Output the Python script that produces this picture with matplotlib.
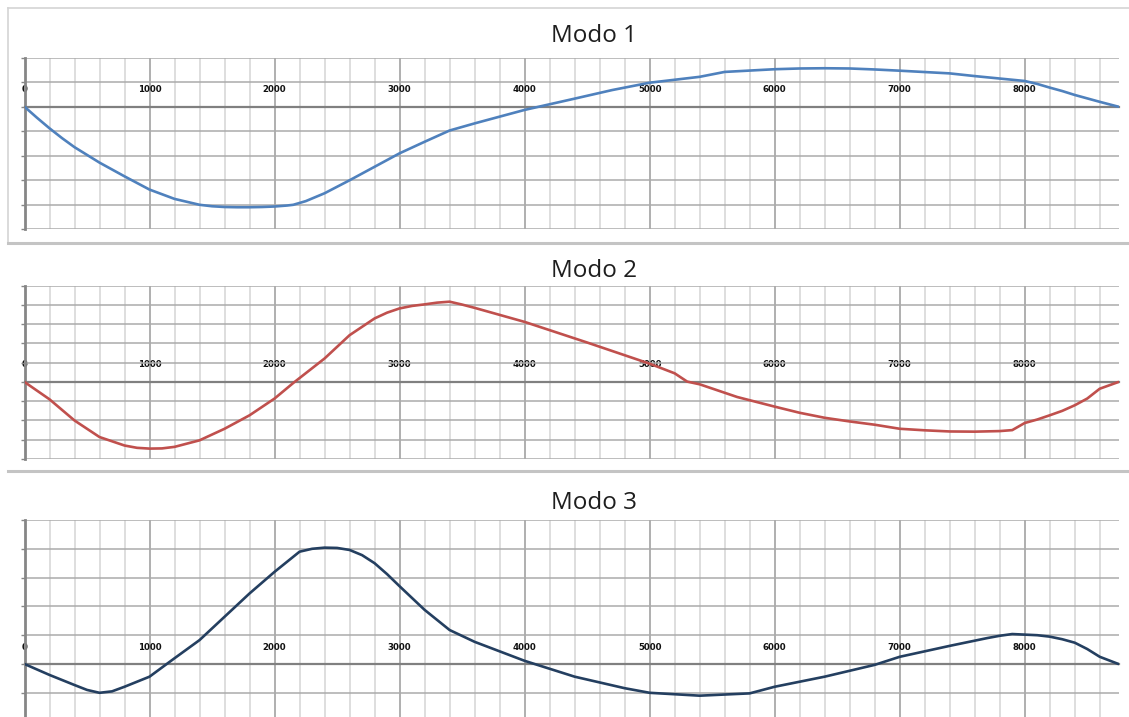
import matplotlib
matplotlib.use("Agg")
import matplotlib.pyplot as plt
from matplotlib.ticker import MultipleLocator
from matplotlib.lines import Line2D

# ---------------- data ----------------
titles = ["Modo 1", "Modo 2", "Modo 3"]
colors = ["#4f81bd", "#c0504d", "#243f60"]

x_mode1 = [0, 100, 200, 300, 400, 600, 800, 1000, 1200, 1400, 1500, 1600, 1700, 1800,
           1900, 2000, 2100, 2150, 2250, 2400, 2600, 2800, 3000, 3200, 3400, 3600, 4000,
           4400, 4700, 5000, 5400, 5600, 6000, 6200, 6400, 6600, 6800, 7000, 7400, 7600,
           8000, 8100, 8200, 8300, 8400, 8600, 8750]
y_mode1 = [0, -0.45, -0.88, -1.28, -1.65, -2.28, -2.84, -3.38, -3.76, -4.0, -4.06, -4.09,
           -4.1, -4.1, -4.09, -4.07, -4.03, -4.0, -3.85, -3.53, -3.0, -2.45, -1.9, -1.43,
           -0.97, -0.68, -0.13, 0.33, 0.68, 0.98, 1.22, 1.42, 1.53, 1.56, 1.57, 1.56,
           1.52, 1.47, 1.36, 1.25, 1.05, 0.93, 0.78, 0.64, 0.48, 0.2, 0]

x_mode2 = [0, 200, 400, 600, 800, 900, 1000, 1100, 1200, 1400, 1600, 1800, 2000, 2150,
           2400, 2600, 2800, 2900, 3000, 3100, 3200, 3300, 3400, 3500, 3600, 4000, 4500,
           5000, 5200, 5300, 5400, 5700, 6000, 6200, 6400, 6600, 6800, 7000, 7200, 7400,
           7600, 7800, 7900, 8000, 8100, 8200, 8300, 8400, 8500, 8600, 8750]
y_mode2 = [0, -0.9, -2.0, -2.86, -3.3, -3.42, -3.46, -3.45, -3.37, -3.03, -2.43, -1.73,
           -0.86, -0.05, 1.22, 2.43, 3.3, 3.6, 3.82, 3.95, 4.03, 4.12, 4.17, 4.02, 3.85,
           3.12, 2.05, 0.95, 0.45, 0.02, -0.12, -0.78, -1.28, -1.6, -1.86, -2.05, -2.22,
           -2.43, -2.51, -2.57, -2.58, -2.55, -2.5, -2.13, -1.95, -1.73, -1.5, -1.21,
           -0.86, -0.35, 0]

x_mode3 = [0, 200, 400, 500, 600, 700, 800, 1000, 1200, 1400, 1600, 1800, 2000, 2200,
           2300, 2400, 2500, 2600, 2700, 2800, 2900, 3000, 3200, 3400, 3600, 4000, 4400,
           4800, 5000, 5400, 5800, 6000, 6400, 6800, 7000, 7400, 7700, 7800, 7900, 8000,
           8100, 8200, 8300, 8400, 8500, 8600, 8750]
y_mode3 = [0, -0.38, -0.73, -0.9, -1.0, -0.95, -0.79, -0.44, 0.2, 0.83, 1.64, 2.45, 3.2,
           3.9, 4.0, 4.04, 4.03, 3.96, 3.78, 3.5, 3.12, 2.7, 1.88, 1.18, 0.77, 0.11,
           -0.44, -0.84, -1.0, -1.1, -1.02, -0.79, -0.44, -0.03, 0.25, 0.63, 0.9, 0.98,
           1.04, 1.02, 1.0, 0.95, 0.86, 0.74, 0.52, 0.25, 0]

xs = [x_mode1, x_mode2, x_mode3]
ys = [y_mode1, y_mode2, y_mode3]
y_limits = [(-5, 2), (-4, 5), (-2, 5)]
x_max = 8750
x_major = 1000
x_minor = 200

# ---------------- layout (pixels) ----------------
W, H = 1129, 717
fig = plt.figure(figsize=(W / 100, H / 100), dpi=100)
fig.patch.set_facecolor("white")

left_px, right_px = 24.5, 1118.5
panels_px = [(57.7, 229.3), (285.7, 459.0), (520.0, 721.6)]
title_base_px = [42.3, 276.7, 509.3]
title_x_px = 594

for i in range(3):
    top, bot = panels_px[i]
    ax = fig.add_axes([left_px / W, 1 - bot / H, (right_px - left_px) / W, (bot - top) / H])
    ax.set_xlim(0, x_max)
    ax.set_ylim(*y_limits[i])
    ax.set_facecolor("none")

    ax.xaxis.set_major_locator(MultipleLocator(x_major))
    ax.xaxis.set_minor_locator(MultipleLocator(x_minor))
    ax.yaxis.set_major_locator(MultipleLocator(1))

    ax.grid(True, axis="x", which="major", color="#9a9a9a", linewidth=1.1)
    ax.grid(True, axis="x", which="minor", color="#d4d4d4", linewidth=1.1)
    ax.grid(True, axis="y", which="major", color="#ababab", linewidth=1.1)
    ax.set_axisbelow(True)

    # x axis drawn at y = 0, labels above it
    ax.spines["top"].set_position(("data", 0))
    ax.spines["top"].set_color("#808080")
    ax.spines["top"].set_linewidth(1.6)
    ax.spines["bottom"].set_visible(False)
    ax.spines["right"].set_visible(False)
    ax.spines["left"].set_color("#868686")
    ax.spines["left"].set_linewidth(2.0)
    ax.spines["left"].set_zorder(0.6)
    ax.xaxis.set_ticks_position("top")
    ax.tick_params(axis="x", which="both", length=0, pad=9.0, labelsize=6.2,
                   labelcolor="#111111")
    for lab in ax.get_xticklabels():
        lab.set_fontweight("bold")
    ax.tick_params(axis="y", which="major", length=3, width=1, color="#868686",
                   direction="out", labelleft=False)

    ax.plot(xs[i], ys[i], color=colors[i], linewidth=1.9, solid_joinstyle="round",
            solid_capstyle="round", zorder=3)

    fig.text(title_x_px / W, 1 - title_base_px[i] / H, titles[i], ha="center",
             va="baseline", fontsize=17.5, family="Open Sans", color="#1e1e1e")

# ---------------- frame / separators ----------------
def px_line(x0, y0, x1, y1, color, lw):
    fig.add_artist(Line2D([x0 / W, x1 / W], [1 - y0 / H, 1 - y1 / H],
                          transform=fig.transFigure, color=color, linewidth=lw))

px_line(8.3, 8.3, W, 8.3, "#d4d4d4", 1.2)
px_line(8.3, 8.3, 8.3, 242, "#d4d4d4", 1.2)
px_line(8.3, 242.5, W, 242.5, "#c4c4c4", 2.2)
px_line(8.3, 470.5, W, 470.5, "#c4c4c4", 2.2)

fig.savefig("out.png", dpi=100, facecolor="white")
